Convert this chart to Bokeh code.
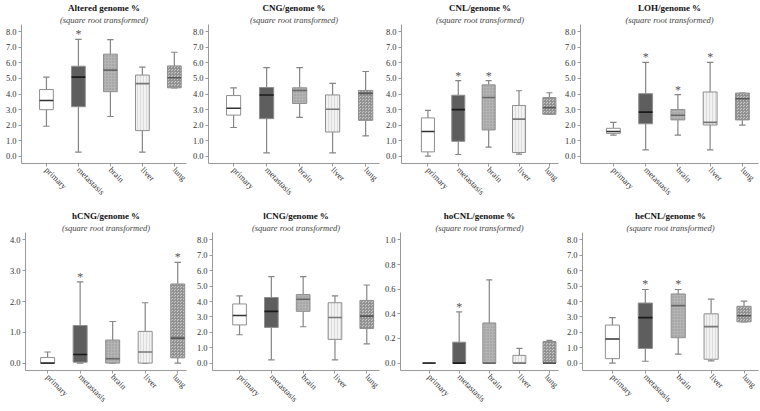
import math
from bokeh.plotting import figure
from bokeh.models import FixedTicker, Title, NumeralTickFormatter, Range1d, Spacer
from bokeh.layouts import row, column
from bokeh.embed import file_html
from bokeh.resources import INLINE
from bokeh.core.properties import value

groups = ["primary", "metastasis", "brain", "liver", "lung"]
subtitle = "(square root transformed)"

titles = ["Altered genome %", "CNG/genome %", "CNL/genome %", "LOH/genome %",
          "hCNG/genome %", "lCNG/genome %", "hoCNL/genome %", "heCNL/genome %"]

altered_low = [1.92, 0.25, 2.55, 0.25, 4.40]
altered_q1 = [2.99, 3.18, 4.15, 1.64, 4.40]
altered_med = [3.58, 5.09, 5.54, 4.67, 5.05]
altered_q3 = [4.29, 5.79, 6.57, 5.22, 5.81]
altered_high = [5.09, 7.52, 7.50, 5.73, 6.69]
altered_star = [0, 1, 0, 0, 0]

cng_low = [1.84, 0.21, 2.49, 0.21, 1.30]
cng_q1 = [2.64, 2.41, 3.39, 1.55, 2.30]
cng_med = [3.08, 3.94, 4.23, 3.02, 4.04]
cng_q3 = [3.90, 4.42, 4.40, 3.94, 4.23]
cng_high = [4.40, 5.70, 5.70, 4.69, 5.45]
cng_star = [0, 0, 0, 0, 0]

cnl_low = [0.00, 0.10, 0.57, 0.13, 2.69]
cnl_q1 = [0.27, 0.95, 1.68, 0.23, 2.69]
cnl_med = [1.58, 2.99, 3.77, 2.38, 3.12]
cnl_q3 = [2.46, 3.92, 4.59, 3.26, 3.77]
cnl_high = [2.95, 4.86, 4.86, 4.21, 4.08]
cnl_star = [0, 1, 1, 0, 0]

loh_low = [1.35, 0.40, 1.35, 0.40, 2.00]
loh_q1 = [1.46, 2.08, 2.33, 2.00, 2.33]
loh_med = [1.58, 2.83, 2.63, 2.17, 3.69]
loh_q3 = [1.79, 4.02, 3.00, 4.13, 4.06]
loh_high = [2.17, 6.04, 3.96, 6.04, 4.06]
loh_star = [0, 1, 1, 1, 0]

hcng_low = [0.00, 0.00, 0.00, 0.00, 0.00]
hcng_q1 = [0.00, 0.03, 0.00, 0.00, 0.17]
hcng_med = [0.00, 0.28, 0.14, 0.36, 0.81]
hcng_q3 = [0.18, 1.22, 0.75, 1.03, 2.57]
hcng_high = [0.36, 2.64, 1.35, 1.96, 3.27]
hcng_star = [0, 1, 0, 0, 1]

lcng_low = [1.84, 0.21, 2.36, 0.21, 1.25]
lcng_q1 = [2.48, 2.32, 3.36, 1.54, 2.25]
lcng_med = [3.09, 3.36, 4.15, 2.96, 3.05]
lcng_q3 = [3.84, 4.26, 4.45, 3.92, 4.07]
lcng_high = [4.36, 5.62, 5.62, 4.36, 5.07]
lcng_star = [0, 0, 0, 0, 0]

hocnl_low = [0.0, 0.0, 0.0, 0.0, 0.0]
hocnl_q1 = [0.0, 0.0, 0.0, 0.0, 0.0]
hocnl_med = [0.0, 0.0, 0.0, 0.0, 0.0]
hocnl_q3 = [0.0, 0.17, 0.326, 0.063, 0.175]
hocnl_high = [0.0, 0.415, 0.676, 0.12, 0.185]
hocnl_star = [0, 1, 0, 0, 0]

hecnl_low = [0.00, 0.12, 0.58, 0.14, 2.68]
hecnl_q1 = [0.29, 0.95, 1.65, 0.25, 2.68]
hecnl_med = [1.57, 2.95, 3.73, 2.37, 3.07]
hecnl_q3 = [2.47, 3.90, 4.49, 3.20, 3.69]
hecnl_high = [2.95, 4.78, 4.78, 4.16, 4.02]
hecnl_star = [0, 1, 1, 0, 0]

y_ticks_8 = [0, 1, 2, 3, 4, 5, 6, 7, 8]
y_ticks_4 = [0, 1, 2, 3, 4]
y_ticks_1 = [0, 0.2, 0.4, 0.6, 0.8, 1.0]

panels = [
    (altered_low, altered_q1, altered_med, altered_q3, altered_high, altered_star, y_ticks_8),
    (cng_low, cng_q1, cng_med, cng_q3, cng_high, cng_star, y_ticks_8),
    (cnl_low, cnl_q1, cnl_med, cnl_q3, cnl_high, cnl_star, y_ticks_8),
    (loh_low, loh_q1, loh_med, loh_q3, loh_high, loh_star, y_ticks_8),
    (hcng_low, hcng_q1, hcng_med, hcng_q3, hcng_high, hcng_star, y_ticks_4),
    (lcng_low, lcng_q1, lcng_med, lcng_q3, lcng_high, lcng_star, y_ticks_8),
    (hocnl_low, hocnl_q1, hocnl_med, hocnl_q3, hocnl_high, hocnl_star, y_ticks_1),
    (hecnl_low, hecnl_q1, hecnl_med, hecnl_q3, hecnl_high, hecnl_star, y_ticks_8),
]

# per-group box styles
box_styles = [
    dict(fill_color="#ffffff", hatch_pattern=None, hatch_color=None, median="#333333"),
    dict(fill_color="#5e5e5e", hatch_pattern=None, hatch_color=None, median="#1a1a1a"),
    dict(fill_color="#b4b4b4", hatch_pattern="dot", hatch_color="#949494", median="#666666"),
    dict(fill_color="#f2f2f2", hatch_pattern="vertical_line", hatch_color="#d6d6d6", median="#777777"),
    dict(fill_color="#c6c6c6", hatch_pattern="criss_cross", hatch_color="#8c8c8c", median="#555555"),
]

# layout: figure widths per column, left borders and x-ranges per panel
col_widths = [188, 193, 179, 200]
left_borders = [21, 20, 20, 20, 25, 24, 19, 22]
x_ranges = [(-0.78, 4.38), (-0.76, 4.42), (-0.87, 4.30), (-1.02, 4.50),
            (-0.68, 4.27), (-0.85, 4.40), (-0.95, 4.30), (-0.91, 4.44)]

SERIF = "Liberation Serif"
BOX_W = 0.43
CAP_W = 0.2


def make_panel(idx, height):
    low, q1, med, q3, high, star, ticks = panels[idx]
    col = idx % 4
    ymax = ticks[-1]
    pad = ymax * 0.06
    p = figure(width=col_widths[col], height=height, output_backend="svg", toolbar_location=None,
               x_range=Range1d(*x_ranges[idx]), y_range=Range1d(-pad, ymax + pad),
               min_border_left=left_borders[idx], min_border_right=2,
               min_border_top=0, min_border_bottom=0,
               title=None)
    p.add_layout(Title(text=subtitle, align="center", text_font=SERIF,
                       text_font_size="8.5px", text_font_style="italic",
                       text_color="#444444", standoff=0), "above")
    p.add_layout(Title(text=titles[idx], align="center", text_font=SERIF,
                       text_font_size="9px", text_font_style="bold",
                       text_color="#111111", standoff=0), "above")
    p.outline_line_color = None
    p.grid.grid_line_color = None
    p.background_fill_color = "white"
    p.border_fill_color = "white"

    for ax in (p.xaxis[0], p.yaxis[0]):
        ax.axis_line_color = "#9a9a9a"
        ax.major_tick_line_color = "#9a9a9a"
        ax.major_tick_in = 0
        ax.major_tick_out = 3
        ax.minor_tick_line_color = None
        ax.major_label_text_font = SERIF
        ax.major_label_text_color = "#333333"
        ax.major_label_standoff = 2
        ax.major_label_text_font_size = "8.5px"

    p.yaxis.ticker = FixedTicker(ticks=ticks)
    p.yaxis.formatter = NumeralTickFormatter(format="0.0")
    p.xaxis.ticker = FixedTicker(ticks=list(range(len(groups))))
    p.xaxis.major_label_overrides = {i: g for i, g in enumerate(groups)}
    p.xaxis.major_label_orientation = -math.pi / 4

    for i, g in enumerate(groups):
        st = box_styles[i]
        # whiskers
        p.segment(x0=[i, i], y0=[q3[i], q1[i]], x1=[i, i], y1=[high[i], low[i]],
                  line_color="#858585", line_width=1.2)
        p.segment(x0=[i - CAP_W / 2, i - CAP_W / 2], y0=[high[i], low[i]],
                  x1=[i + CAP_W / 2, i + CAP_W / 2], y1=[high[i], low[i]],
                  line_color="#858585", line_width=1.2)
        kw = dict(fill_color=st["fill_color"], line_color="#8f8f8f", line_width=1)
        if st["hatch_pattern"]:
            kw.update(hatch_pattern=st["hatch_pattern"], hatch_color=st["hatch_color"],
                      hatch_scale=3, hatch_weight=0.8)
        p.vbar(x=[i], width=BOX_W, bottom=[q1[i]], top=[q3[i]], **kw)
        p.segment(x0=[i - BOX_W / 2], y0=[med[i]], x1=[i + BOX_W / 2], y1=[med[i]],
                  line_color=st["median"], line_width=1.6)
        if star[i]:
            p.text(x=[i], y=[high[i]], text=["*"], text_align="center",
                   text_baseline="bottom", y_offset=2, text_font=value(SERIF),
                   text_font_size="12px", text_color="#555555")
    return p


figs_top = [make_panel(k, 203) for k in range(4)]
figs_bot = [make_panel(k, 202) for k in range(4, 8)]
layout = column(row(*figs_top), Spacer(height=5, width=10), row(*figs_bot))

open("out.html", "w").write(file_html(layout, INLINE))
